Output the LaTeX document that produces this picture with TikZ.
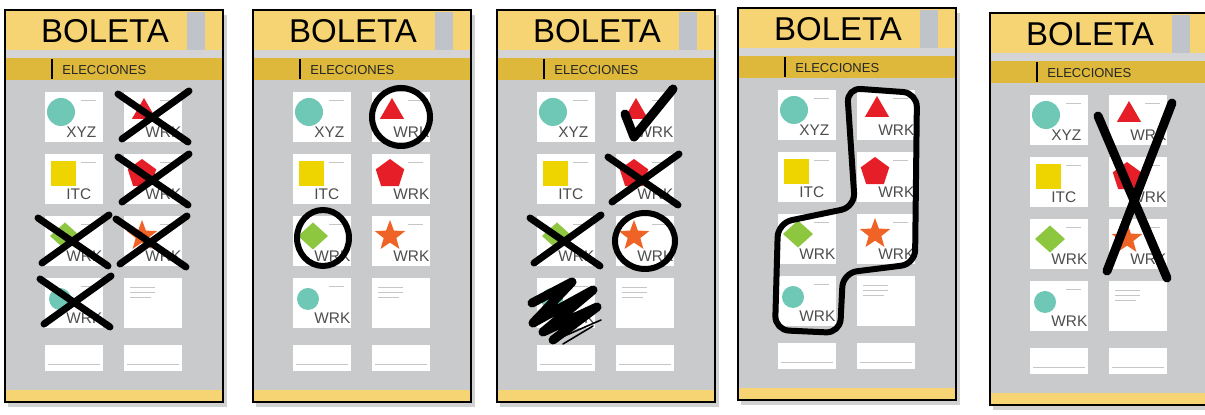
\documentclass[tikz,border=0pt]{standalone}
\usepackage{fontspec}
\setmainfont{Liberation Sans}
\usetikzlibrary{shapes.geometric}

\definecolor{amarillo}{HTML}{F6D373}
\definecolor{dorado}{HTML}{DDB83A}
\definecolor{grisfondo}{HTML}{C9CACC}
\definecolor{gristira}{HTML}{D4D4D6}
\definecolor{gristab}{HTML}{BFC4CA}
\definecolor{verdeazul}{HTML}{6FC8B5}
\definecolor{amarillofig}{HTML}{EED500}
\definecolor{rojofig}{HTML}{E51E28}
\definecolor{verdefig}{HTML}{8DC63F}
\definecolor{naranjafig}{HTML}{EF6326}
\definecolor{textogris}{HTML}{4D4D4F}

\tikzset{
  casilla/.style={fill=white},
  etiqueta/.style={anchor=south west, inner sep=0pt, font=\fontsize{7.7}{8}\selectfont, text=textogris},
  raya/.style={line width=0.5pt, draw=gray!45},
  titulo/.style={font=\fontsize{16.5}{18}\selectfont, inner sep=0pt},
  subtitulo/.style={font=\fontsize{6.5}{7}\selectfont, inner sep=0pt, text=black!85, anchor=west},
  borde/.style={draw=black, line width=1.1pt},
  sombra/.style={fill=black, opacity=0.18},
  marca/.style={line width=3.5pt, line cap=round, line join=round, draw=black},
  % figuras
  figura/.style={inner sep=0pt, outer sep=0pt},
  circulo/.style={circle, fill=verdeazul, minimum size=14pt, xshift=-1pt},
  circulochico/.style={circle, fill=verdeazul, minimum size=11pt, xshift=-1.5pt, yshift=-0.5pt},
  cuadro/.style={rectangle, fill=amarillofig, minimum size=12.5pt},
  triangulo/.style={regular polygon, regular polygon sides=3, minimum size=14pt, fill=rojofig, xshift=1pt},
  pentagono/.style={regular polygon, regular polygon sides=5, minimum size=15pt, fill=rojofig},
  rombo/.style={diamond, minimum width=15pt, minimum height=13.5pt, fill=verdefig, xshift=1pt},
  estrella/.style={star, star points=5, star point ratio=2.4, minimum size=16pt, fill=naranjafig},
}

% una casilla: nombre, x, y, figura, etiqueta
\newcommand{\casilla}[5]{%
  \fill[casilla] (#2,#3) rectangle ++(58,50);
  \draw[raya] (#2+36,#3+9) -- ++(15,0);
  \node[figura,#4] (#1-fig) at (#2+18,#3+20) {};
  \node[etiqueta] (#1-txt) at (#2+21,#3+46) {#5};
}

% una boleta completa: nombre, x, y
\newcommand{\boleta}[3]{%
  \begin{scope}[shift={(#2,#3)}]
    \fill[sombra] (3,5) rectangle (222,397);
    \fill[amarillo] (0,0) rectangle (218,40);
    \fill[gristira] (0,40) rectangle (218,48);
    \fill[dorado] (0,48) rectangle (218,70);
    \fill[grisfondo] (0,70) rectangle (218,380);
    \fill[amarillo] (0,380) rectangle (218,392);
    \fill[gristab] (182,2) rectangle (200,40);
    \node[titulo] (#1-titulo) at (100,21) {BOLETA};
    \draw[line width=1pt] (47,49) -- (47,69);
    \node[subtitulo] (#1-sub) at (57,60) {ELECCIONES};
    % casillas
    \casilla{#1-a}{40}{82}{circulo}{XYZ}
    \casilla{#1-b}{119}{82}{triangulo}{WRK}
    \casilla{#1-c}{40}{144}{cuadro}{ITC}
    \casilla{#1-d}{119}{144}{pentagono}{WRK}
    \casilla{#1-e}{40}{206}{rombo}{WRK}
    \casilla{#1-f}{119}{206}{estrella}{WRK}
    \casilla{#1-g}{40}{268}{circulochico}{WRK}
    \fill[casilla] (119,268) rectangle ++(58,50);
    \draw[raya] (125,278) -- ++(25,0) (125,283) -- ++(25,0) (125,288) -- ++(21,0);
    \fill[casilla] (40,335) rectangle ++(58,26);
    \draw[raya] (43,355) -- ++(52,0);
    \fill[casilla] (119,335) rectangle ++(58,26);
    \draw[raya] (122,355) -- ++(52,0);
    \draw[borde] (0,0) rectangle (218,392);
  \end{scope}}

% tache sobre una casilla: centro x, centro y
\newcommand{\tache}[2]{%
  \draw[marca] (#1-35,#2-23) -- (#1+35,#2+25) (#1+36,#2-26) -- (#1-31,#2+22);
}

\begin{document}
\begin{tikzpicture}[x=0.5pt, y=-0.5pt]
  \useasboundingbox (0,0) rectangle (1205,415);
  \clip (0,0) rectangle (1205,415);

  % boleta 1
  \boleta{b1}{5}{10}
  \begin{scope}[shift={(5,10)}]
    \tache{148}{107}
    \tache{148}{170}
    \tache{68}{231}
    \tache{146}{232}
    \tache{70}{292}
  \end{scope}

  % boleta 2
  \boleta{b2}{253}{10}
  \begin{scope}[shift={(253,10)}]
    \draw[marca, line width=3pt] (148,107) ellipse [x radius=29, y radius=29];
    \draw[marca, line width=3pt] (70,228) ellipse [x radius=26, y radius=28];
  \end{scope}

  % boleta 3
  \boleta{b3}{497}{10}
  \begin{scope}[shift={(497,10)}]
    \draw[marca, line width=4.5pt] (128,104) -- (137,127) -- (176,79);
    \tache{146}{170}
    \tache{68}{231}
    \draw[marca, line width=3pt] (148,231) ellipse [x radius=30, y radius=28];
    \draw[marca, line width=4.5pt] (35,293) -- (75,272) -- (36,313) -- (96,280) -- (46,322) -- (100,297) -- (56,330);
    \draw[line width=0.8pt, line cap=round] (56,331) -- (104,310) (66,334) -- (96,316);
  \end{scope}

  % boleta 4
  \boleta{b4}{738}{8}
  \begin{scope}[shift={(738,8)}]
    \draw[marca, line width=3pt, rounded corners=7pt] (109,80) -- (117,199) -- (40,215) -- (37,322)
      -- (102,325) -- (105,265) -- (177,256) -- (179,85) -- cycle;
  \end{scope}

  % boleta 5
  \boleta{b5}{990}{13}
  \begin{scope}[shift={(990,13)}]
    \draw[marca, line width=4.5pt] (108,103) -- (177,265) (182,90) -- (117,258);
  \end{scope}
\end{tikzpicture}
\end{document}
